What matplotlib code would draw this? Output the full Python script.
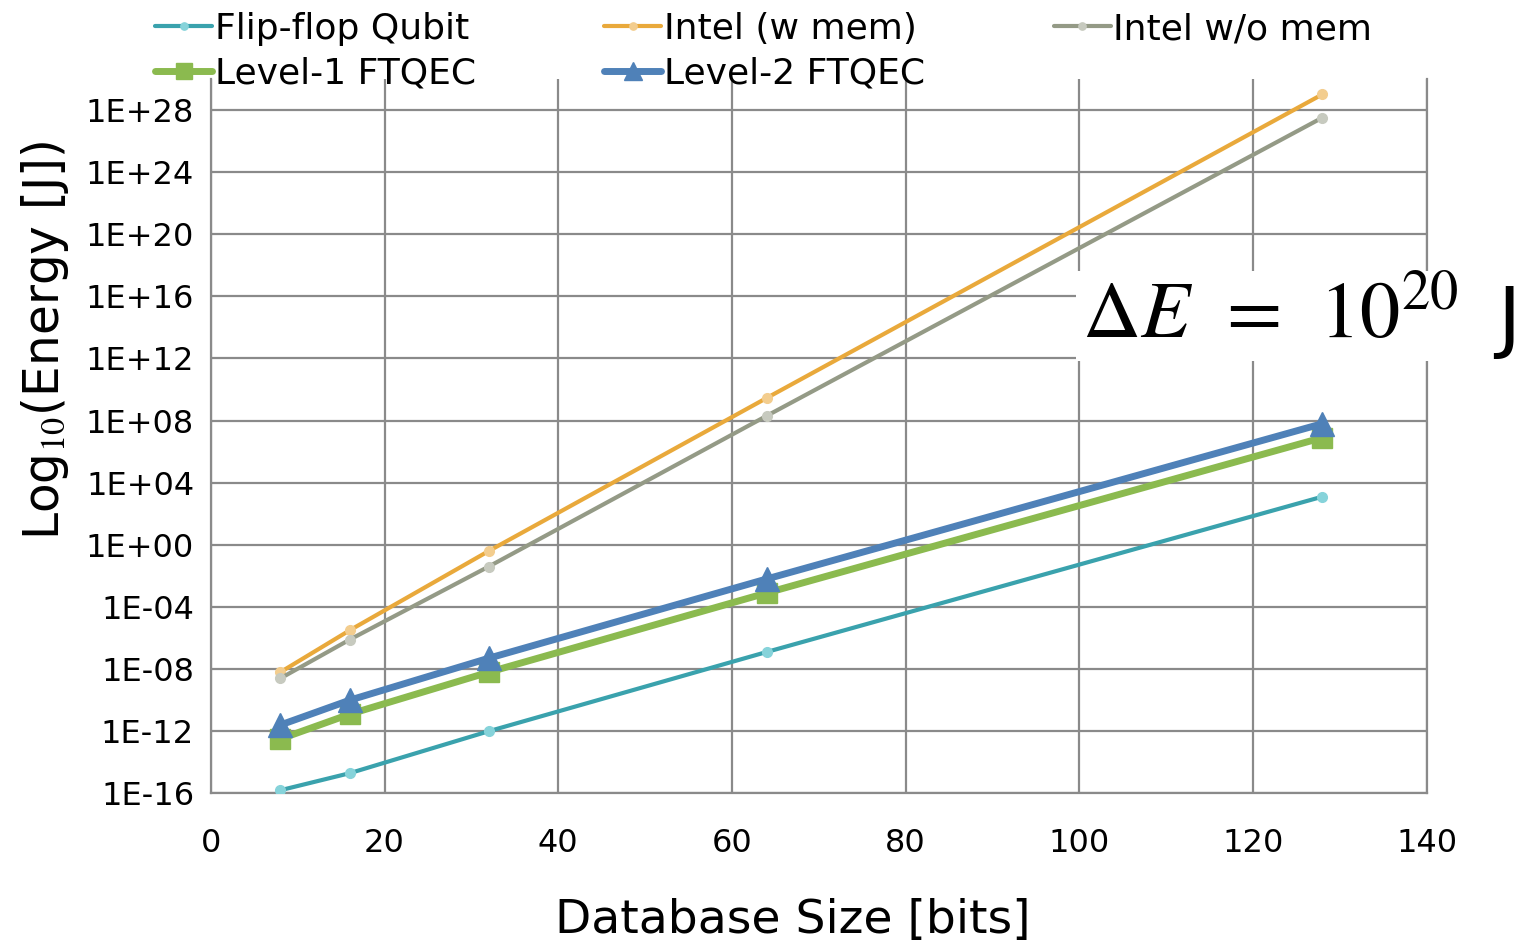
import matplotlib.pyplot as plt
import numpy as np

# database sizes (bits)
sizes = [8, 16, 32, 64, 128]

# log10 of energy [J]
flip_flop = [-15.8, -14.7, -12.0, -6.9, 3.1]
intel_mem = [-8.2, -5.5, -0.4, 9.45, 29.0]
intel_nomem = [-8.6, -6.1, -1.4, 8.3, 27.5]
level1 = [-12.5, -10.9, -8.2, -3.1, 6.9]
level2 = [-11.6, -10.0, -7.3, -2.2, 7.8]

y_ticks = list(range(-16, 29, 4))
x_ticks = [0, 20, 40, 60, 80, 100, 120, 140]

plt.rcParams['font.family'] = ['DejaVu Sans']
plt.rcParams['mathtext.fontset'] = 'stix'

fig = plt.figure(figsize=(15.39, 9.49), dpi=100)
ax = fig.add_axes([0.137, 0.164, 0.79, 0.753])

grid_col = '#8a8a8a'

series = [
    ("Flip-flop Qubit", flip_flop, '#3AA2AD', '#86D3DA', 'o', 3.0, 7),
    ("Intel (w mem)", intel_mem, '#E9A93B', '#F3CD8E', 'o', 3.0, 7),
    ("Intel w/o mem", intel_nomem, '#949A86', '#C7CABF', 'o', 3.0, 7),
    ("Level-1 FTQEC", level1, '#8BBA4F', '#8BBA4F', 's', 5.0, 15),
    ("Level-2 FTQEC", level2, '#4F81B8', '#4F81B8', '^', 5.0, 17),
]

handles = {}
for name, vals, col, mcol, mk, lw, ms in series:
    h, = ax.plot(sizes, 10.0 ** np.array(vals), color=col, lw=lw,
                 marker=mk, markersize=ms, markerfacecolor=mcol,
                 markeredgecolor=mcol, label=name, zorder=3,
                 solid_capstyle='round')
    handles[name] = h

ax.set_yscale('log')
ax.set_xlim(0, 140)
ax.set_ylim(1e-16, 1e30)
ax.set_xticks(x_ticks)
ax.set_yticks([10.0 ** t for t in y_ticks])
ax.set_yticklabels(["1E%+03d" % t if t < 0 else "1E+%02d" % t for t in y_ticks])
ax.minorticks_off()
ax.tick_params(axis='both', length=0, labelsize=23, pad=12)
ax.tick_params(axis='x', pad=25)
ax.grid(True, color=grid_col, lw=1.6, zorder=1)
for s in ['left', 'right', 'bottom']:
    ax.spines[s].set_color(grid_col)
    ax.spines[s].set_linewidth(1.6)
ax.spines['top'].set_visible(False)

ax.set_xlabel("Database Size [bits]", fontsize=34, va='center')
ax.xaxis.set_label_coords(0.479, -0.178)
ax.set_ylabel("Log$_{10}$(Energy [J])", fontsize=35, va='center')
ax.yaxis.set_label_coords(-0.1365, 0.634)

# legend filled column by column -> order gives two rows of 3 + 2
order = ["Flip-flop Qubit", "Level-1 FTQEC", "Intel (w mem)",
         "Level-2 FTQEC", "Intel w/o mem"]
fig.legend(handles=[handles[n] for n in order], loc='upper left',
           bbox_to_anchor=(0.0796, 1.0216), ncol=3, frameon=False,
           fontsize=26, handlelength=1.58, handletextpad=0.08,
           columnspacing=3.55, labelspacing=0.3, markerscale=0.75)

fig.text(0.703, 0.667, r"$\Delta E\;\,=\;\,10^{20}$", fontsize=58,
         va='center', ha='left',
         bbox=dict(facecolor='white', edgecolor='none', pad=4))
fig.text(0.9725, 0.662, "J", fontsize=57, va='center', ha='left')

fig.savefig('out.png', dpi=100)
